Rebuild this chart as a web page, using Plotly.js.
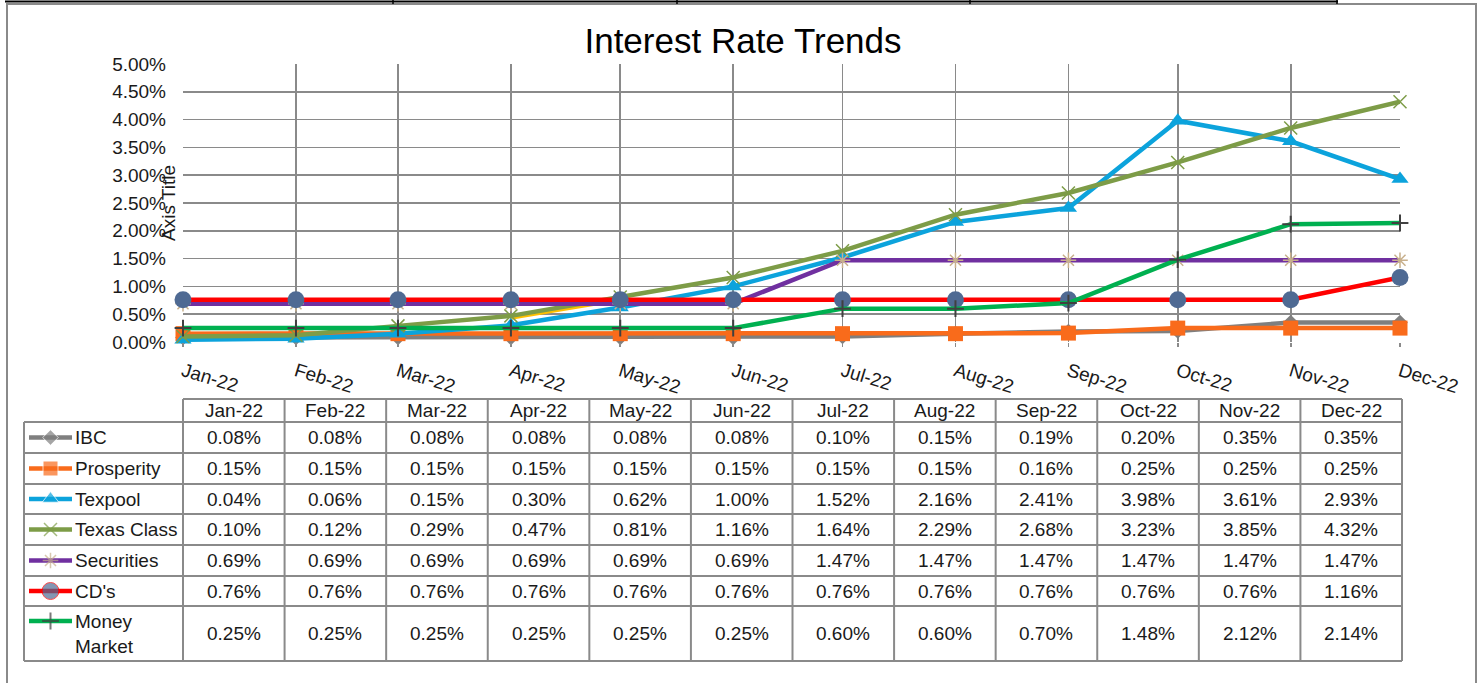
<!DOCTYPE html>
<html>
<head>
<meta charset="utf-8">
<script src="https://cdn.plot.ly/plotly-3.0.1.min.js"></script>
<style>html,body{margin:0;padding:0;background:#fff;}#chart{width:1483px;height:683px;}</style>
</head>
<body>
<div id="chart"></div>
<script>
// ---- data ----
const months = ['2022-01-01','2022-02-01','2022-03-01','2022-04-01','2022-05-01','2022-06-01','2022-07-01','2022-08-01','2022-09-01','2022-10-01','2022-11-01','2022-12-01'];
const monthLabels = ['Jan-22','Feb-22','Mar-22','Apr-22','May-22','Jun-22','Jul-22','Aug-22','Sep-22','Oct-22','Nov-22','Dec-22'];
const ibc         = [0.08,0.08,0.08,0.08,0.08,0.08,0.10,0.15,0.19,0.20,0.35,0.35];
const prosperity  = [0.15,0.15,0.15,0.15,0.15,0.15,0.15,0.15,0.16,0.25,0.25,0.25];
const texpool     = [0.04,0.06,0.15,0.30,0.62,1.00,1.52,2.16,2.41,3.98,3.61,2.93];
const texasClass  = [0.10,0.12,0.29,0.47,0.81,1.16,1.64,2.29,2.68,3.23,3.85,4.32];
const securities  = [0.69,0.69,0.69,0.69,0.69,0.69,1.47,1.47,1.47,1.47,1.47,1.47];
const cds         = [0.76,0.76,0.76,0.76,0.76,0.76,0.76,0.76,0.76,0.76,0.76,1.16];
const moneyMarket = [0.25,0.25,0.25,0.25,0.25,0.25,0.60,0.60,0.70,1.48,2.12,2.14];
const otherSeries = [null,null,null,0.44,0.77,null,null,null,null,null,null,null];
const seriesNames = ['IBC','Prosperity','Texpool','Texas Class','Securities',"CD's",'Money Market'];
const seriesLabels = ['IBC','Prosperity','Texpool','Texas Class','Securities',"CD's",'Money<br>Market'];
const seriesValues = [ibc, prosperity, texpool, texasClass, securities, cds, moneyMarket];

// ---- styles ----
const W = 1483, H = 683;
const FONT = 'Liberation Sans, Arial, sans-serif';
const TXT = '#1a1a1a';
const GRID = '#8a8a8a';
const LW = 4.5;
const styles = [
  {line:'#7f7f7f', marker:{symbol:'diamond', size:12, color:'#7f7f7f'}},
  {line:'#f96b1b', marker:{symbol:'square', size:15, color:'#f96b1b'}},
  {line:'#0ca3dc', marker:{symbol:'triangle-up', size:15, color:'#0ca3dc'}},
  {line:'#7d9c47', marker:{symbol:'x-thin-open', size:13, color:'#7d9c47', line:{color:'#7d9c47', width:1.5}}},
  {line:'#7030a0', marker:{symbol:'asterisk-open', size:13, color:'#c8b08c', line:{color:'#c8b08c', width:1.5}}},
  {line:'#ff0000', marker:{symbol:'circle', size:17, color:'#4f6a93'}},
  {line:'#00b050', marker:{symbol:'cross-thin-open', size:12, color:'#404040', line:{color:'#404040', width:2}}}
];

const px = x => x / W;
const py = y => 1 - y / H;

// plot area in pixels
const PL = 183, PR = 1400, PT = 64, PB = 342;

const traces = [];
traces.push({x: months, y: otherSeries, type:'scatter', mode:'lines', showlegend:false,
  line:{color:'#ffc000', width:LW}, hoverinfo:'skip', cliponaxis:false});
seriesValues.forEach((vals, i) => {
  traces.push({x: months, y: vals, name: seriesNames[i], type:'scatter', mode:'lines+markers',
    line:{color: styles[i].line, width:LW}, marker: styles[i].marker, cliponaxis:false, showlegend:false});
});

// table geometry
const colL = 183, colR = 1402, nCol = monthLabels.length;
const colW = (colR - colL) / nCol;
const legL = 24;
const rowY = [399, 422, 453, 484, 514, 545, 576, 606, 661];

// legend glyph traces on overlay pixel axes
seriesValues.forEach((vals, i) => {
  const yc = i < 6 ? (rowY[i+1] + rowY[i+2]) / 2 : 621;
  const m = Object.assign({}, styles[i].marker);
  m.size = [0, styles[i].marker.size, 0];
  traces.push({x:[29, 50.5, 72], y:[yc, yc, yc], xaxis:'x2', yaxis:'y2', type:'scatter', mode:'lines+markers',
    line:{color: styles[i].line, width:LW}, marker: m, showlegend:false, hoverinfo:'skip', cliponaxis:false});
});

const shapes = [];
const gline = (x0,y0,x1,y1,color,w) => shapes.push({type:'line', xref:'paper', yref:'paper',
  x0:px(x0), y0:py(y0), x1:px(x1), y1:py(y1), line:{color:color||GRID, width:w||2}});

// outer frame
shapes.push({type:'rect', xref:'paper', yref:'paper', x0:px(7), x1:px(1476), y0:py(4), y1:py(700),
  line:{color:'#8a8a8a', width:2}, fillcolor:'rgba(0,0,0,0)'});
// top spreadsheet borders
gline(5, 1.5, 1338, 1.5, '#000', 2);
[393, 677, 970, 1337].forEach(x => gline(x, 0, x, 4, '#000', 1.5));

// table horizontal lines
gline(colL, rowY[0], colR, rowY[0]);
for (let r = 1; r < rowY.length; r++) gline(legL, rowY[r], colR, rowY[r]);
// vertical lines
gline(legL, rowY[1], legL, rowY[rowY.length-1]);
for (let c = 0; c <= nCol; c++) gline(colL + c*colW, rowY[0], colL + c*colW, rowY[rowY.length-1]);

const annotations = [];
const note = (text, x, y, extra) => annotations.push(Object.assign({text, xref:'paper', yref:'paper',
  x:px(x), y:py(y), showarrow:false, xanchor:'center', yanchor:'middle',
  font:{family:FONT, size:19, color:TXT}}, extra||{}));

monthLabels.forEach((m, c) => note(m, colL + (c+0.5)*colW, (rowY[0]+rowY[1])/2));
seriesValues.forEach((vals, i) => {
  const yc = (rowY[i+1] + rowY[i+2]) / 2;
  vals.forEach((v, c) => note(v.toFixed(2) + '%', colL + (c+0.5)*colW, yc));
  note(seriesLabels[i], 73, yc, {xanchor:'left', align:'left'});
});
// axis title
note('Axis Title', 168, 203, {textangle:-90});

const layout = {
  width: W, height: H,
  margin:{l:0, r:0, t:0, b:0},
  paper_bgcolor:'#ffffff', plot_bgcolor:'rgba(0,0,0,0)',
  title:{text:'Interest Rate Trends', font:{family:FONT, size:35, color:'#000'},
    xref:'paper', yref:'paper', x:px(743), y:py(41), xanchor:'center', yanchor:'middle'},
  showlegend:false,
  xaxis:{type:'date', domain:[px(PL), px(PR)], range:[months[0], months[months.length-1]],
    tickvals: months, ticktext: monthLabels, tickangle:17,
    showgrid:true, gridcolor:GRID, gridwidth:1.75, zeroline:false, showline:false,
    ticks:'outside', ticklen:4, tickcolor:GRID, tickwidth:1.75,
    tickfont:{family:FONT, size:19, color:TXT}, ticklabelstandoff:6, fixedrange:true},
  yaxis:{domain:[py(PB), py(PT)], range:[0, 5], dtick:0.5, tickformat:'.2f', ticksuffix:'%',
    showgrid:true, gridcolor:GRID, gridwidth:1.75, zeroline:false, showline:false, ticks:'',
    tickfont:{family:FONT, size:19, color:TXT}, ticklabelstandoff:16, fixedrange:true},
  xaxis2:{domain:[0,1], range:[0, W], visible:false, anchor:'y2', fixedrange:true},
  yaxis2:{domain:[0,1], range:[H, 0], visible:false, anchor:'x2', fixedrange:true},
  shapes, annotations
};

Plotly.newPlot('chart', traces, layout, {displayModeBar:false, staticPlot:true});
</script>
</body>
</html>
